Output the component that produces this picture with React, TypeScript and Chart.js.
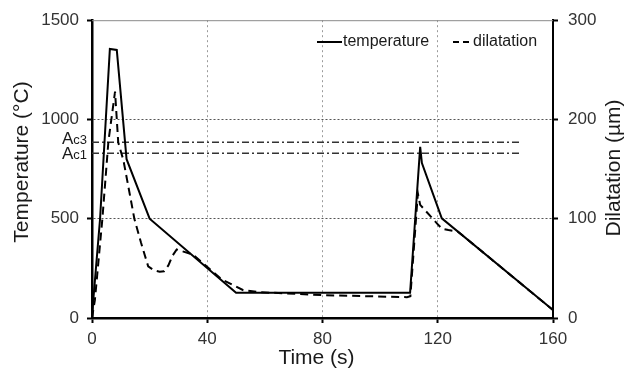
import React, { useEffect, useRef } from "react";
import { Chart, registerables } from "chart.js";

Chart.register(...registerables);

// ---- data ----
const tempTime = [0, 0.5, 2.8, 6.2, 8.6, 12, 20, 50, 110.4, 113.9, 114.5, 121.4, 160];
const temperature = [0, 100, 500, 1355, 1350, 800, 500, 127, 127, 862, 780, 502, 40];

const dilTime = [0, 1, 3.6, 5.7, 8, 9.1, 10.9, 14.7, 17, 19.5, 21.5, 23.5, 25, 26.5, 28, 29.4, 35, 45, 52.5, 58.3, 80, 109.3, 110.5, 113.1, 113.9, 119.7, 121.4, 123.7, 127, 160];
const dilatation = [0, 18, 100, 178, 228, 177, 159, 100, 76, 52, 48, 46.5, 47, 53, 63, 69, 64, 39, 28, 26, 23, 21, 22, 125.5, 114, 95.4, 90, 88.6, 87, 8];

const acTime = [0, 149];
const ac3Value = 885;
const ac1Value = 830;

const xTicks = [0, 40, 80, 120, 160];
const tempTicks = [0, 500, 1000, 1500];
const dilTicks = [0, 100, 200, 300];

const FONT = "'Liberation Sans', Arial, sans-serif";

const overlayPlugin = {
  id: "overlay",
  afterDraw(chart: any) {
    const { ctx, chartArea, scales } = chart;
    ctx.save();
    // top frame line
    ctx.strokeStyle = "#8a8a8a";
    ctx.lineWidth = 1;
    ctx.beginPath();
    ctx.moveTo(chartArea.left, chartArea.top + 0.5);
    ctx.lineTo(chartArea.right, chartArea.top + 0.5);
    ctx.stroke();

    // axis titles
    ctx.fillStyle = "#1a1a1a";
    ctx.font = `21px ${FONT}`;
    ctx.textAlign = "center";
    ctx.textBaseline = "middle";
    ctx.fillText("Time (s)", (chartArea.left + chartArea.right) / 2 - 6, 358);

    ctx.save();
    ctx.translate(22, 162);
    ctx.rotate(-Math.PI / 2);
    ctx.fillText("Temperature (°C)", 0, 0);
    ctx.restore();

    ctx.save();
    ctx.translate(614, 168);
    ctx.rotate(-Math.PI / 2);
    ctx.fillText("Dilatation (µm)", 0, 0);
    ctx.restore();

    // Ac labels
    const drawAc = (sub: string, baseY: number) => {
      ctx.textAlign = "left";
      ctx.textBaseline = "alphabetic";
      ctx.font = `13px ${FONT}`;
      const subW = ctx.measureText(sub).width;
      ctx.font = `17px ${FONT}`;
      const aW = ctx.measureText("A").width;
      const right = chartArea.left - 5;
      const start = right - subW - aW;
      ctx.fillStyle = "#1a1a1a";
      ctx.fillText("A", start, baseY);
      ctx.font = `13px ${FONT}`;
      ctx.fillText(sub, start + aW, baseY);
    };
    drawAc("c3", scales.y.getPixelForValue(ac3Value) + 2);
    drawAc("c1", scales.y.getPixelForValue(ac1Value) + 6);

    // legend
    const ly = 42;
    ctx.strokeStyle = "#000";
    ctx.lineWidth = 2;
    ctx.setLineDash([]);
    ctx.beginPath();
    ctx.moveTo(317, ly);
    ctx.lineTo(342, ly);
    ctx.stroke();
    ctx.setLineDash([6, 4]);
    ctx.beginPath();
    ctx.moveTo(453, ly);
    ctx.lineTo(471, ly);
    ctx.stroke();
    ctx.setLineDash([]);
    ctx.font = `16px ${FONT}`;
    ctx.fillStyle = "#1a1a1a";
    ctx.textAlign = "left";
    ctx.textBaseline = "middle";
    ctx.fillText("temperature", 343, ly);
    ctx.fillText("dilatation", 473, ly);
    ctx.restore();
  },
};

export default function App() {
  const ref = useRef<HTMLCanvasElement | null>(null);

  useEffect(() => {
    if (!ref.current) return;
    const tickFont = { family: FONT, size: 17 };
    const plain = (v: any) => String(v);
    const chart = new Chart(ref.current, {
      type: "line",
      data: {
        datasets: [
          {
            label: "temperature",
            data: tempTime.map((t, i) => ({ x: t, y: temperature[i] })),
            borderColor: "#000",
            borderWidth: 2,
            pointRadius: 0,
            tension: 0,
            yAxisID: "y",
          },
          {
            label: "dilatation",
            data: dilTime.map((t, i) => ({ x: t, y: dilatation[i] })),
            borderColor: "#000",
            borderWidth: 2,
            borderDash: [8, 5],
            pointRadius: 0,
            tension: 0,
            yAxisID: "y1",
          },
          {
            label: "Ac3",
            data: acTime.map((t) => ({ x: t, y: ac3Value })),
            borderColor: "#333",
            borderWidth: 1.5,
            borderDash: [7, 3, 2, 3],
            pointRadius: 0,
            yAxisID: "y",
          },
          {
            label: "Ac1",
            data: acTime.map((t) => ({ x: t, y: ac1Value })),
            borderColor: "#333",
            borderWidth: 1.5,
            borderDash: [7, 3, 2, 3],
            pointRadius: 0,
            yAxisID: "y",
          },
        ],
      },
      options: {
        responsive: false,
        animation: false,
        layout: { padding: { top: 20, left: 0, right: 0, bottom: 0 } },
        plugins: { legend: { display: false }, tooltip: { enabled: false } },
        scales: {
          x: {
            type: "linear",
            min: 0,
            max: 160,
            afterBuildTicks: (s: any) => {
              s.ticks = xTicks.map((v) => ({ value: v }));
            },
            afterFit: (s: any) => {
              s.height = 51;
            },
            ticks: { font: tickFont, color: "#333", padding: 6, callback: plain },
            grid: {
              color: (c: any) =>
                c.tick && (c.tick.value === 0 || c.tick.value === 160) ? "rgba(0,0,0,0)" : "#9a9a9a",
              lineWidth: 1,
              tickLength: 5,
              tickColor: "#000",
              tickWidth: 2,
            },
            border: { display: true, color: "#000", width: 2.5, dash: [2, 3] },
          },
          y: {
            type: "linear",
            position: "left",
            min: 0,
            max: 1500,
            afterBuildTicks: (s: any) => {
              s.ticks = tempTicks.map((v) => ({ value: v }));
            },
            afterFit: (s: any) => {
              s.width = 92;
            },
            ticks: { font: tickFont, color: "#333", padding: 8, callback: plain },
            grid: {
              color: (c: any) => {
                const v = c.tick && c.tick.value;
                if (v === 0 || v === 1500) return "rgba(0,0,0,0)";
                return "#555";
              },
              lineWidth: 1,
              tickLength: 5,
              tickColor: "#000",
              tickWidth: 2,
            },
            border: { display: true, color: "#000", width: 2.5, dash: [2, 2] },
          },
          y1: {
            type: "linear",
            position: "right",
            min: 0,
            max: 300,
            afterBuildTicks: (s: any) => {
              s.ticks = dilTicks.map((v) => ({ value: v }));
            },
            afterFit: (s: any) => {
              s.width = 72;
            },
            ticks: { font: tickFont, color: "#333", padding: 10, callback: plain },
            grid: {
              drawOnChartArea: false,
              tickLength: 5,
              tickColor: "#000",
              tickWidth: 2,
            },
            border: { display: true, color: "#000", width: 2 },
          },
        },
      },
      plugins: [overlayPlugin],
    } as any);
    return () => chart.destroy();
  }, []);

  return (
    <div style={{ position: "absolute", left: 0, top: 0, width: 625, height: 369, background: "#fff" }}>
      <canvas ref={ref} width={625} height={369} style={{ display: "block" }} />
    </div>
  );
}
